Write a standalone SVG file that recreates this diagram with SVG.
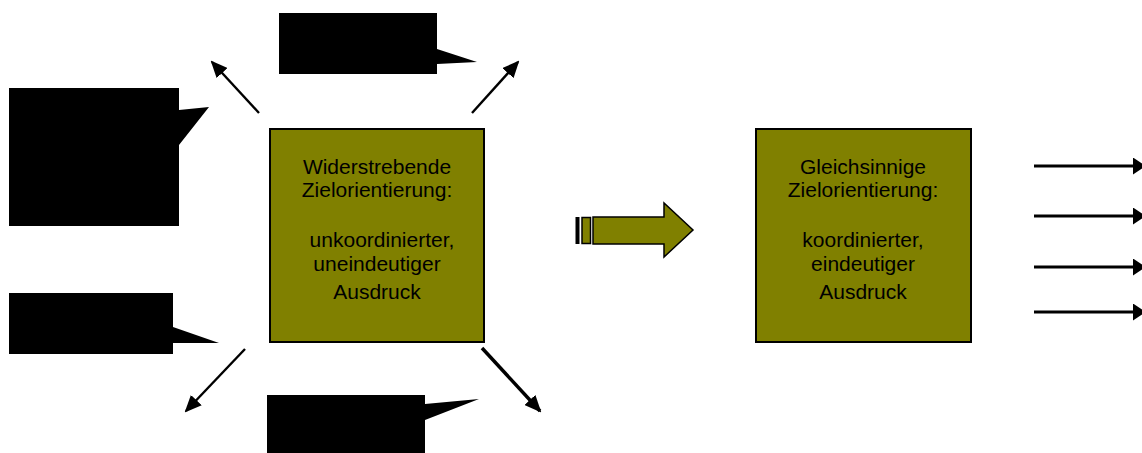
<svg xmlns="http://www.w3.org/2000/svg" width="1142" height="453" viewBox="0 0 1142 453">
<style>
.box{fill:#808000;stroke:#000;stroke-width:2}
.callout{fill:#000;stroke:none}
.conn{stroke:#000;stroke-width:2.4;fill:none}
.lbl{font-family:"Liberation Sans",Arial,sans-serif;font-size:21px;fill:#000;text-anchor:middle}
</style>
<defs>
<marker id="ah" markerUnits="userSpaceOnUse" markerWidth="17" markerHeight="15" refX="15" refY="7.5" orient="auto" viewBox="0 0 17 15">
<path d="M0,0 L17,7.5 L0,15 z" fill="#000"/>
</marker>
<marker id="ahr" markerUnits="userSpaceOnUse" markerWidth="13" markerHeight="17" refX="11" refY="8.5" orient="auto" viewBox="0 0 13 17">
<path d="M0,0 L13,8.5 L0,17 z" fill="#000"/>
</marker>
</defs>
<rect width="1142" height="453" fill="#fff"/>
<g id="callout-left-top"><path class="callout" d="M9,88 H179 V110 L209,107 L179,145 V226 H9 Z"/></g>
<g id="callout-top"><path class="callout" d="M279,13 H437 V49 L477,62 L437,64 V74 H279 Z"/></g>
<g id="callout-left-bottom"><path class="callout" d="M9,293 H173 V327 L219,343 L173,343 V354 H9 Z"/></g>
<g id="callout-bottom"><path class="callout" d="M267,395 H425 V404 L479,399 L425,420 V460 H267 Z"/></g>
<g id="node-widerstrebend">
<rect class="box" x="270" y="129" width="214" height="213"/>
<text class="lbl" x="377" y="174">Widerstrebende</text>
<text class="lbl" x="377" y="197">Zielorientierung:</text>
<text class="lbl" x="382" y="247">unkoordinierter,</text>
<text class="lbl" x="377" y="271">uneindeutiger</text>
<text class="lbl" x="377" y="299">Ausdruck</text>
</g>
<g id="node-gleichsinnig">
<rect class="box" x="756" y="129" width="215" height="213"/>
<text class="lbl" x="863" y="174">Gleichsinnige</text>
<text class="lbl" x="863" y="197">Zielorientierung:</text>
<text class="lbl" x="863" y="247">koordinierter,</text>
<text class="lbl" x="863" y="271">eindeutiger</text>
<text class="lbl" x="863" y="299">Ausdruck</text>
</g>
<g id="block-arrow">
<rect x="575.5" y="217" width="4" height="27" fill="#000"/>
<rect x="582" y="217.5" width="8.5" height="26" fill="#808000" stroke="#000" stroke-width="1.5"/>
<path d="M593,217 H664 V203 L693,230 L664,257 V244 H593 Z" fill="#808000" stroke="#000" stroke-width="1.5"/>
</g>
<g id="connectors">
<line class="conn" x1="259" y1="113" x2="212" y2="62" marker-end="url(#ah)"/>
<line class="conn" x1="472" y1="113" x2="518" y2="62" marker-end="url(#ah)"/>
<line class="conn" x1="245" y1="349" x2="186" y2="411" marker-end="url(#ah)"/>
<line class="conn" x1="482" y1="348" x2="540" y2="411" marker-end="url(#ah)" style="stroke-width:3.5"/>
<line class="conn" x1="1034" y1="166" x2="1144" y2="166" marker-end="url(#ahr)" style="stroke-width:3"/>
<line class="conn" x1="1034" y1="216" x2="1144" y2="216" marker-end="url(#ahr)" style="stroke-width:3"/>
<line class="conn" x1="1034" y1="267" x2="1144" y2="267" marker-end="url(#ahr)" style="stroke-width:3"/>
<line class="conn" x1="1034" y1="312" x2="1144" y2="312" marker-end="url(#ahr)" style="stroke-width:3"/>
</g>
</svg>
